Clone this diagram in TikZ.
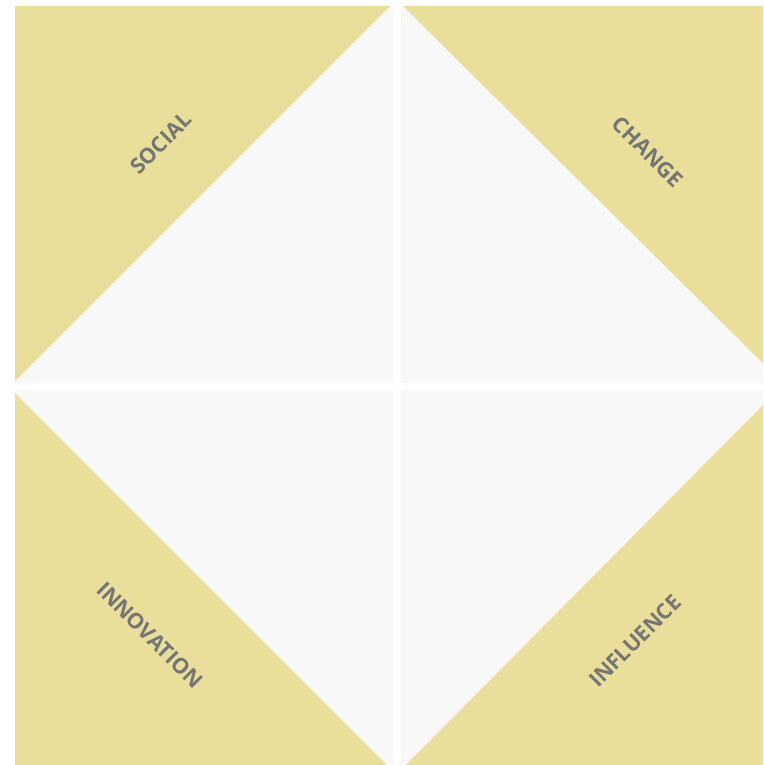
\documentclass[tikz,border=0pt]{standalone}
\usepackage{fontspec}
\setmainfont{Open Sans}
\definecolor{tileyellow}{RGB}{233,222,154}
\definecolor{tilegray}{RGB}{248,248,248}
\definecolor{labelgray}{RGB}{117,117,117}
\begin{document}
\begin{tikzpicture}[x=1pt,y=-1pt,
  yel/.style={fill=tileyellow,draw=none},
  gry/.style={fill=tilegray,draw=none},
  lbl/.style={font=\fontsize{21.5}{25}\selectfont\bfseries,text=labelgray,inner sep=0pt}]
\useasboundingbox (0,0) rectangle (763,765);
\fill[white] (0,0) rectangle (763,765);
\clip (0,0) rectangle (763,765);
% top-left
\fill[gry] (15,6) rectangle (393,383);
\fill[yel] (15,6) -- (390,6) -- (15,381) -- cycle;
% top-right
\fill[gry] (401,6) rectangle (790,383);
\fill[yel] (403,6) -- (790,6) -- (790,390) -- cycle;
% bottom-left
\fill[gry] (15,390) rectangle (393,775);
\fill[yel] (15,393) -- (15,775) -- (397,775) -- cycle;
% bottom-right
\fill[gry] (401,390) rectangle (790,775);
\fill[yel] (396,775) -- (790,378) -- (790,775) -- cycle;
% labels
\node[lbl,rotate=45] (social) at (161,143) {SOCIAL};
\node[lbl,rotate=-45] (change) at (648,152) {CHANGE};
\node[lbl,rotate=-45] (innovation) at (150,635) {INNOVATION};
\node[lbl,rotate=45] (influence) at (635,641) {INFLUENCE};
\end{tikzpicture}
\end{document}
